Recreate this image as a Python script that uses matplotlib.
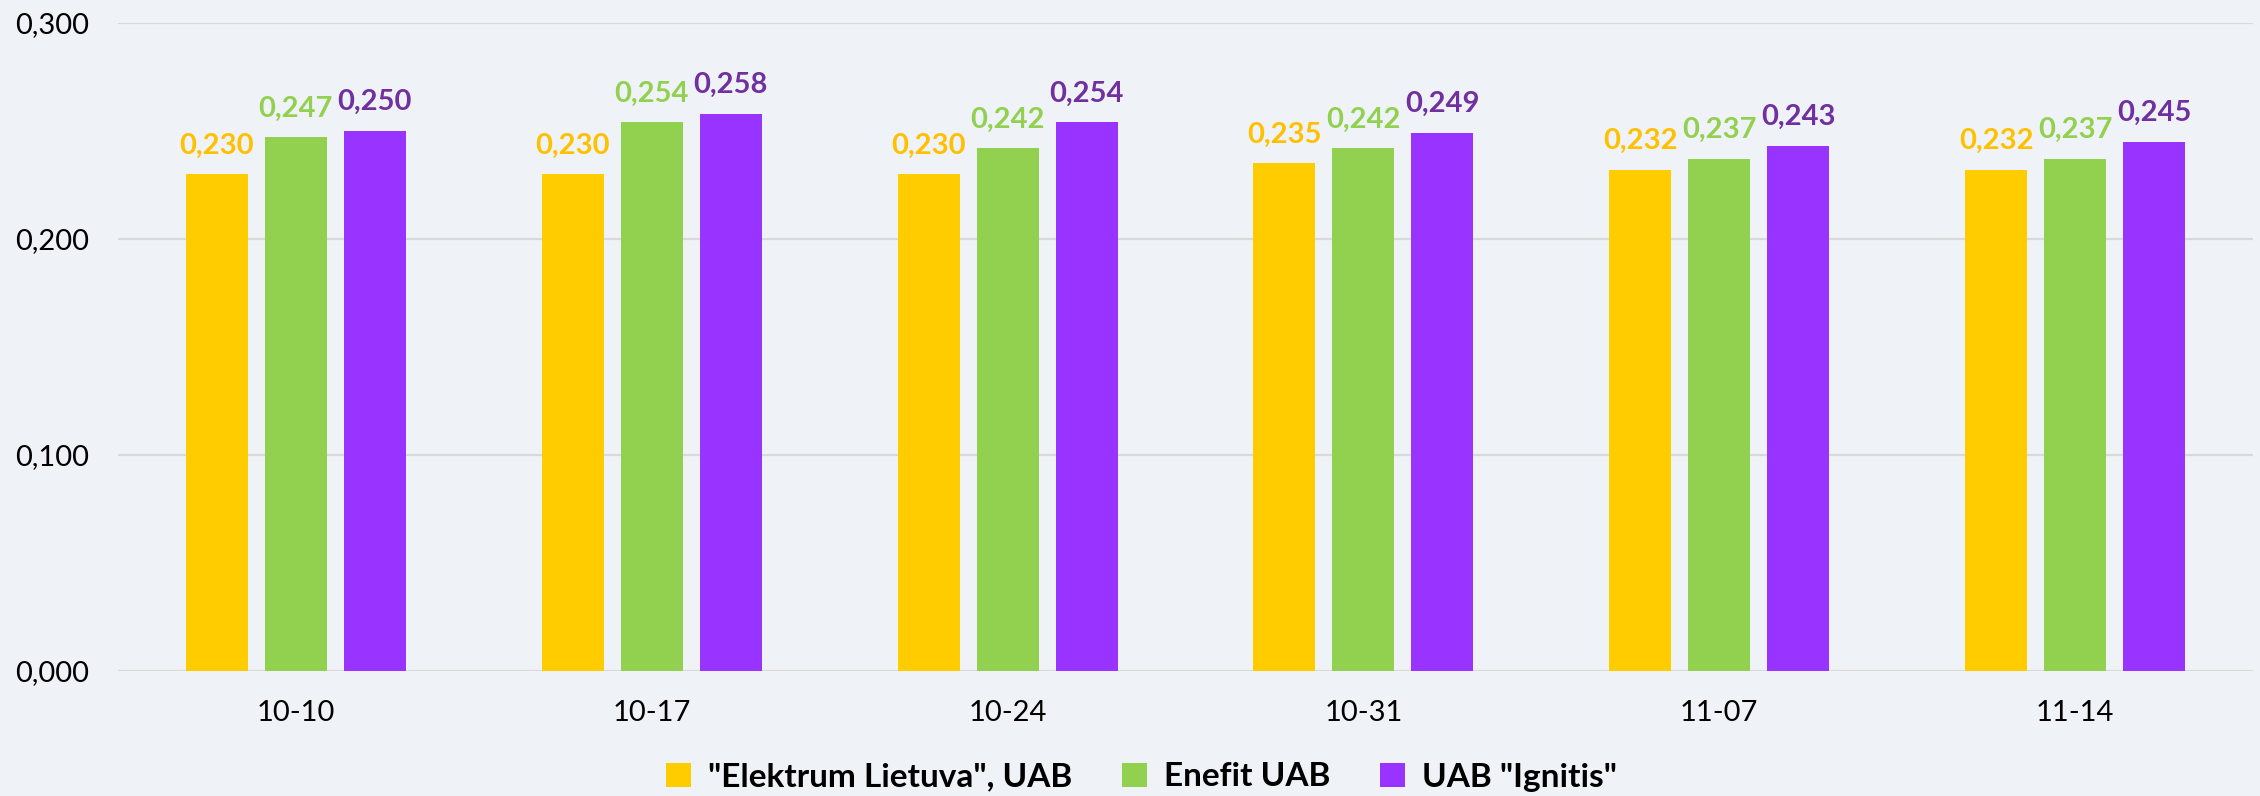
import matplotlib
matplotlib.use("Agg")
import matplotlib.pyplot as plt
import numpy as np

categories = ["10-10", "10-17", "10-24", "10-31", "11-07", "11-14"]
series_names = ['"Elektrum Lietuva", UAB', "Enefit UAB", 'UAB "Ignitis"']
elektrum = [0.230, 0.230, 0.230, 0.235, 0.232, 0.232]
enefit = [0.247, 0.254, 0.242, 0.242, 0.237, 0.237]
ignitis = [0.250, 0.258, 0.254, 0.249, 0.243, 0.245]
yticks = [0.0, 0.1, 0.2, 0.3]

bar_colors = ["#FFCC00", "#92D050", "#9933FF"]
label_colors = ["#FFC000", "#92D050", "#7030A0"]
bg = "#EFF3F7"

plt.rcParams['font.family'] = ['Lato', 'DejaVu Sans']

fig = plt.figure(figsize=(22.6, 7.96), dpi=100, facecolor=bg)
ax = fig.add_axes([118/2260, 125/796, (2253-118)/2260, (671-23)/796])
ax.set_facecolor(bg)

x = np.arange(len(categories))
width = 0.174
step = 0.222
for i, (vals, name) in enumerate(zip([elektrum, enefit, ignitis], series_names)):
    off = (i - 1) * step
    ax.bar(x + off, vals, width=width, color=bar_colors[i], label=name, zorder=3)
    for xi, v in zip(x, vals):
        ax.annotate(f"{v:.3f}".replace(".", ","), (xi + off, v),
                    xytext=(0, 15), textcoords="offset points",
                    ha="center", va="baseline", fontsize=21, fontweight="bold",
                    color=label_colors[i], zorder=4)

ax.set_xlim(-0.5, len(categories) - 0.5)
ax.set_ylim(0, 0.3)
ax.set_yticks(yticks)
ax.set_yticklabels([f"{t:.3f}".replace(".", ",") for t in yticks], fontsize=21)
ax.set_xticks(x)
ax.set_xticklabels(categories, fontsize=21)
ax.tick_params(axis="both", length=0, colors="black")
ax.tick_params(axis="y", pad=21)
ax.tick_params(axis="x", pad=21)
for s in ax.spines.values():
    s.set_visible(False)
ax.grid(axis="y", color="#D9D9D9", linewidth=1.6, zorder=0)
ax.set_axisbelow(True)

leg = fig.legend(loc="center", bbox_to_anchor=(0.505, 1 - 777/796), ncol=3,
                 frameon=False, prop={"weight": "bold", "size": 24},
                 handlelength=0.75, handleheight=0.75, handletextpad=0.5,
                 columnspacing=1.5)

fig.savefig("out.png", dpi=100, facecolor=bg)
